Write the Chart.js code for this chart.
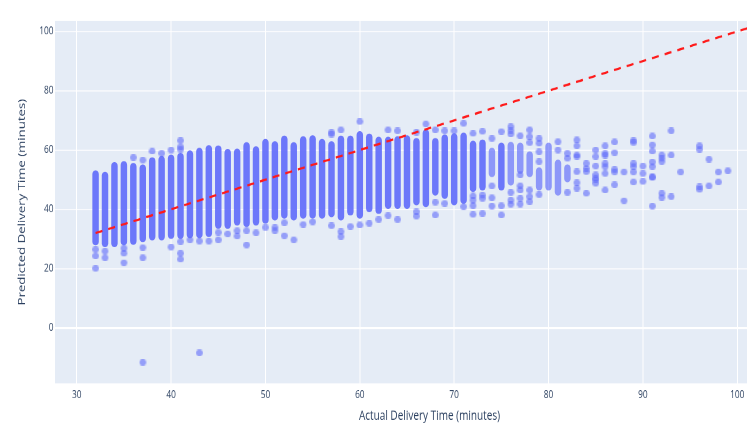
<!DOCTYPE html>
<html>
<head>
<meta charset="utf-8">
<script src="https://cdn.jsdelivr.net/npm/chart.js@4.4.0/dist/chart.umd.min.js"></script>
<style>
html, body { margin: 0; padding: 0; background: #fff; overflow: hidden; width: 747px; height: 431px; }
#wrap { position: absolute; left: 0; top: 0; width: 860px; height: 327px; transform: scaleY(1.318); transform-origin: 0 0; }
</style>
</head>
<body>
<div id="wrap"><canvas id="chart"></canvas></div>
<script>
// ---------------- DATA ----------------
const xTicks = [30, 40, 50, 60, 70, 80, 90, 100];
const yTicks = [0, 20, 40, 60, 80, 100];

// columns where the points overlap into a solid strip
const bandX    = [32, 33, 34, 35, 36, 37, 38, 39, 40, 41, 42, 43, 44, 45, 46, 47, 48, 49, 50, 51, 52, 53, 54, 55, 56, 57, 58, 59, 60, 61, 62, 63, 64, 65, 66, 67, 68, 69, 70, 71, 72, 73, 75];
const bandLow  = [28.0, 27.4, 27.4, 28.0, 28.2, 29.1, 29.7, 29.7, 30.2, 30.2, 30.4, 30.4, 30.8, 33.6, 33.6, 34.7, 34.2, 34.7, 35.3, 36.4, 37.0, 36.4, 37.0, 37.0, 37.0, 37.5, 36.4, 38.1, 37.0, 39.2, 38.6, 40.3, 40.3, 40.3, 41.5, 40.9, 44.8, 43.7, 41.5, 42.0, 46.0, 46.5, 46.5];
const bandHigh = [53.0, 52.5, 55.8, 56.1, 55.5, 55.0, 57.4, 57.8, 58.3, 58.9, 59.7, 60.6, 61.5, 61.4, 60.2, 60.3, 62.5, 61.1, 63.6, 62.8, 64.7, 62.5, 64.5, 64.8, 63.6, 62.8, 64.7, 64.7, 66.2, 65.4, 64.3, 64.3, 64.5, 64.8, 63.9, 66.8, 63.9, 65.1, 65.5, 65.7, 63.0, 63.4, 62.3];

// columns with a looser cluster of points
const looseX    = [74, 76, 77, 78, 79, 80, 81, 82];
const looseLow  = [51.0, 48.2, 52.1, 51.0, 46.5, 46.5, 44.8, 49.3];
const looseHigh = [60.6, 62.6, 62.3, 59.4, 54.0, 62.3, 56.6, 55.0];

// single points outside the clusters
const pointCols = [32, 33, 35, 36, 37, 38, 39, 40, 41, 42, 43, 44, 45, 46, 47, 48, 49, 50, 51, 52, 53, 54, 55, 57, 58, 59, 60, 61, 62, 63, 64, 66, 67, 68, 69, 70, 71, 72, 73, 74, 75, 76, 77, 78, 79, 81, 82, 83, 84, 85, 86, 87, 88, 89, 90, 91, 92, 93, 94, 96, 97, 98, 99];
const pointVals = [
    [26.5, 24.3, 20.1], [25.9, 23.7], [26.9, 25.2, 22.0], [57.5], [56.6, 27.1, 23.7, -11.6],
    [59.6], [58.9], [60.0, 27.3], [63.2, 61.1, 60.2, 29.1, 25.2, 23.2], [29.7],
    [29.3, -8.4], [29.3], [32.2, 29.7], [31.7], [32.8, 31.0],
    [32.8, 28.0], [32.1], [33.9], [33.9, 32.8], [35.5, 31.1],
    [29.7], [34.9], [35.8], [66.0, 65.3, 34.5], [66.8, 32.5, 30.8],
    [34.2], [69.6, 34.7], [35.3], [36.6], [66.8, 37.9],
    [66.5, 36.6], [66.0, 39.2, 37.7], [68.8], [66.8, 42.4, 38.1], [66.5, 42.0],
    [66.5], [69.0, 40.9], [65.6, 44.5, 43.1, 41.2, 38.3], [66.3, 44.8, 43.7, 38.6], [63.9, 47.9, 43.9, 41.1],
    [66.2, 41.2, 38.1], [67.9, 66.6, 65.4, 45.7, 43.1, 41.7], [64.8, 51.6, 47.9, 46.5, 43.7, 41.8], [66.8, 64.5, 62.5, 46.5, 44.3, 42.6], [63.9, 62.3, 59.4, 56.1, 45.0],
    [62.8, 60.0], [58.9, 57.2, 45.7], [63.4, 61.4, 58.3, 57.8, 52.7, 49.0, 47.1], [55.5, 53.8, 52.7, 45.4], [60.0, 57.8, 54.6, 51.6, 50.5, 49.9, 48.8],
    [61.4, 58.9, 58.2, 55.5, 54.4, 52.1, 46.5], [62.7, 59.1, 53.5, 52.6, 48.3], [52.6, 42.9], [63.2, 62.5, 55.5, 54.4, 52.6, 49.2], [54.6, 52.1, 49.4],
    [64.7, 61.7, 59.6, 56.0, 54.4, 51.0, 50.7, 41.1], [58.3, 57.2, 56.1, 45.4, 44.0], [66.5, 58.3, 44.3], [52.6], [61.4, 60.2, 47.6, 46.7],
    [56.9, 47.9], [52.6, 49.2], [53.0]
];

// perfect prediction line (predicted = actual)
const fitEnds = [32, 107];

// ---------------- STYLE ----------------
const blue = "99,110,250";
const textColor = "#2a3f5f";

// round dot that stays round after the vertical stretch
const dot = document.createElement("canvas");
dot.width = 7;
dot.height = 5;
const g = dot.getContext("2d");
g.fillStyle = `rgba(${blue},0.62)`;
g.beginPath();
g.ellipse(3.5, 2.5, 3.4, 2.55, 0, 0, Math.PI * 2);
g.fill();

const plotBg = {
    id: "plotBg",
    beforeDraw(chart) {
        const { ctx, chartArea: a } = chart;
        ctx.save();
        ctx.fillStyle = "#E5ECF6";
        ctx.fillRect(a.left, a.top, a.width, a.height);
        ctx.restore();
    }
};

const points = [];
pointCols.forEach((x, i) => pointVals[i].forEach(y => points.push({ x, y })));

function bandSet(xs, lows, highs, alpha) {
    return {
        type: "bar",
        data: xs.map((x, i) => ({ x, y: [lows[i], highs[i]] })),
        backgroundColor: `rgba(${blue},${alpha})`,
        barThickness: 5.8,
        borderRadius: 2.9,
        borderSkipped: false,
        grouped: false,
        order: 3
    };
}

// ---------------- CHART ----------------
new Chart(document.getElementById("chart"), {
    type: "scatter",
    data: {
        datasets: [
            bandSet(bandX, bandLow, bandHigh, 0.93),
            bandSet(looseX, looseLow, looseHigh, 0.68),
            {
                type: "scatter",
                data: points,
                pointStyle: dot,
                pointRadius: 3.3,
                order: 2
            },
            {
                type: "line",
                data: fitEnds.map(v => ({ x: v, y: v })),
                borderColor: "#ff1a1a",
                borderWidth: 1.7,
                borderDash: [7, 6],
                pointRadius: 0,
                order: 0
            }
        ]
    },
    options: {
        responsive: true,
        maintainAspectRatio: false,
        animation: false,
        devicePixelRatio: 2,
        layout: { padding: { left: 0, top: 15.93, right: 56, bottom: 0 } },
        plugins: { legend: { display: false }, tooltip: { enabled: false } },
        scales: {
            x: {
                type: "linear",
                offset: false,
                min: 27.70,
                max: 107.07,
                afterBuildTicks: s => { s.ticks = xTicks.map(v => ({ value: v })); },
                afterFit: s => { s.height = 36.2; },
                grid: { color: "#ffffff", lineWidth: 1, drawTicks: false, offset: false },
                border: { display: false },
                ticks: { color: textColor, padding: 4, font: { family: "Open Sans", size: 8.3 } },
                title: {
                    display: true,
                    text: "Actual Delivery Time (minutes)",
                    color: textColor,
                    font: { family: "Open Sans", size: 10 },
                    padding: { top: 0, bottom: 5.5 }
                }
            },
            y: {
                type: "linear",
                min: -18.65,
                max: 103.5,
                afterBuildTicks: s => { s.ticks = yTicks.map(v => ({ value: v })); },
                afterFit: s => { s.width = 55; },
                grid: {
                    color: "#ffffff",
                    lineWidth: c => (c.tick && c.tick.value === 0 ? 1.6 : 0.8),
                    drawTicks: false
                },
                border: { display: false },
                ticks: { color: textColor, padding: 1.5, font: { family: "Open Sans", size: 8.3 } },
                title: {
                    display: true,
                    text: "Predicted Delivery Time (minutes)",
                    color: textColor,
                    font: { family: "Open Sans", size: 10 },
                    padding: { top: 16, bottom: 0 }
                }
            }
        }
    },
    plugins: [plotBg]
});
</script>
</body>
</html>
